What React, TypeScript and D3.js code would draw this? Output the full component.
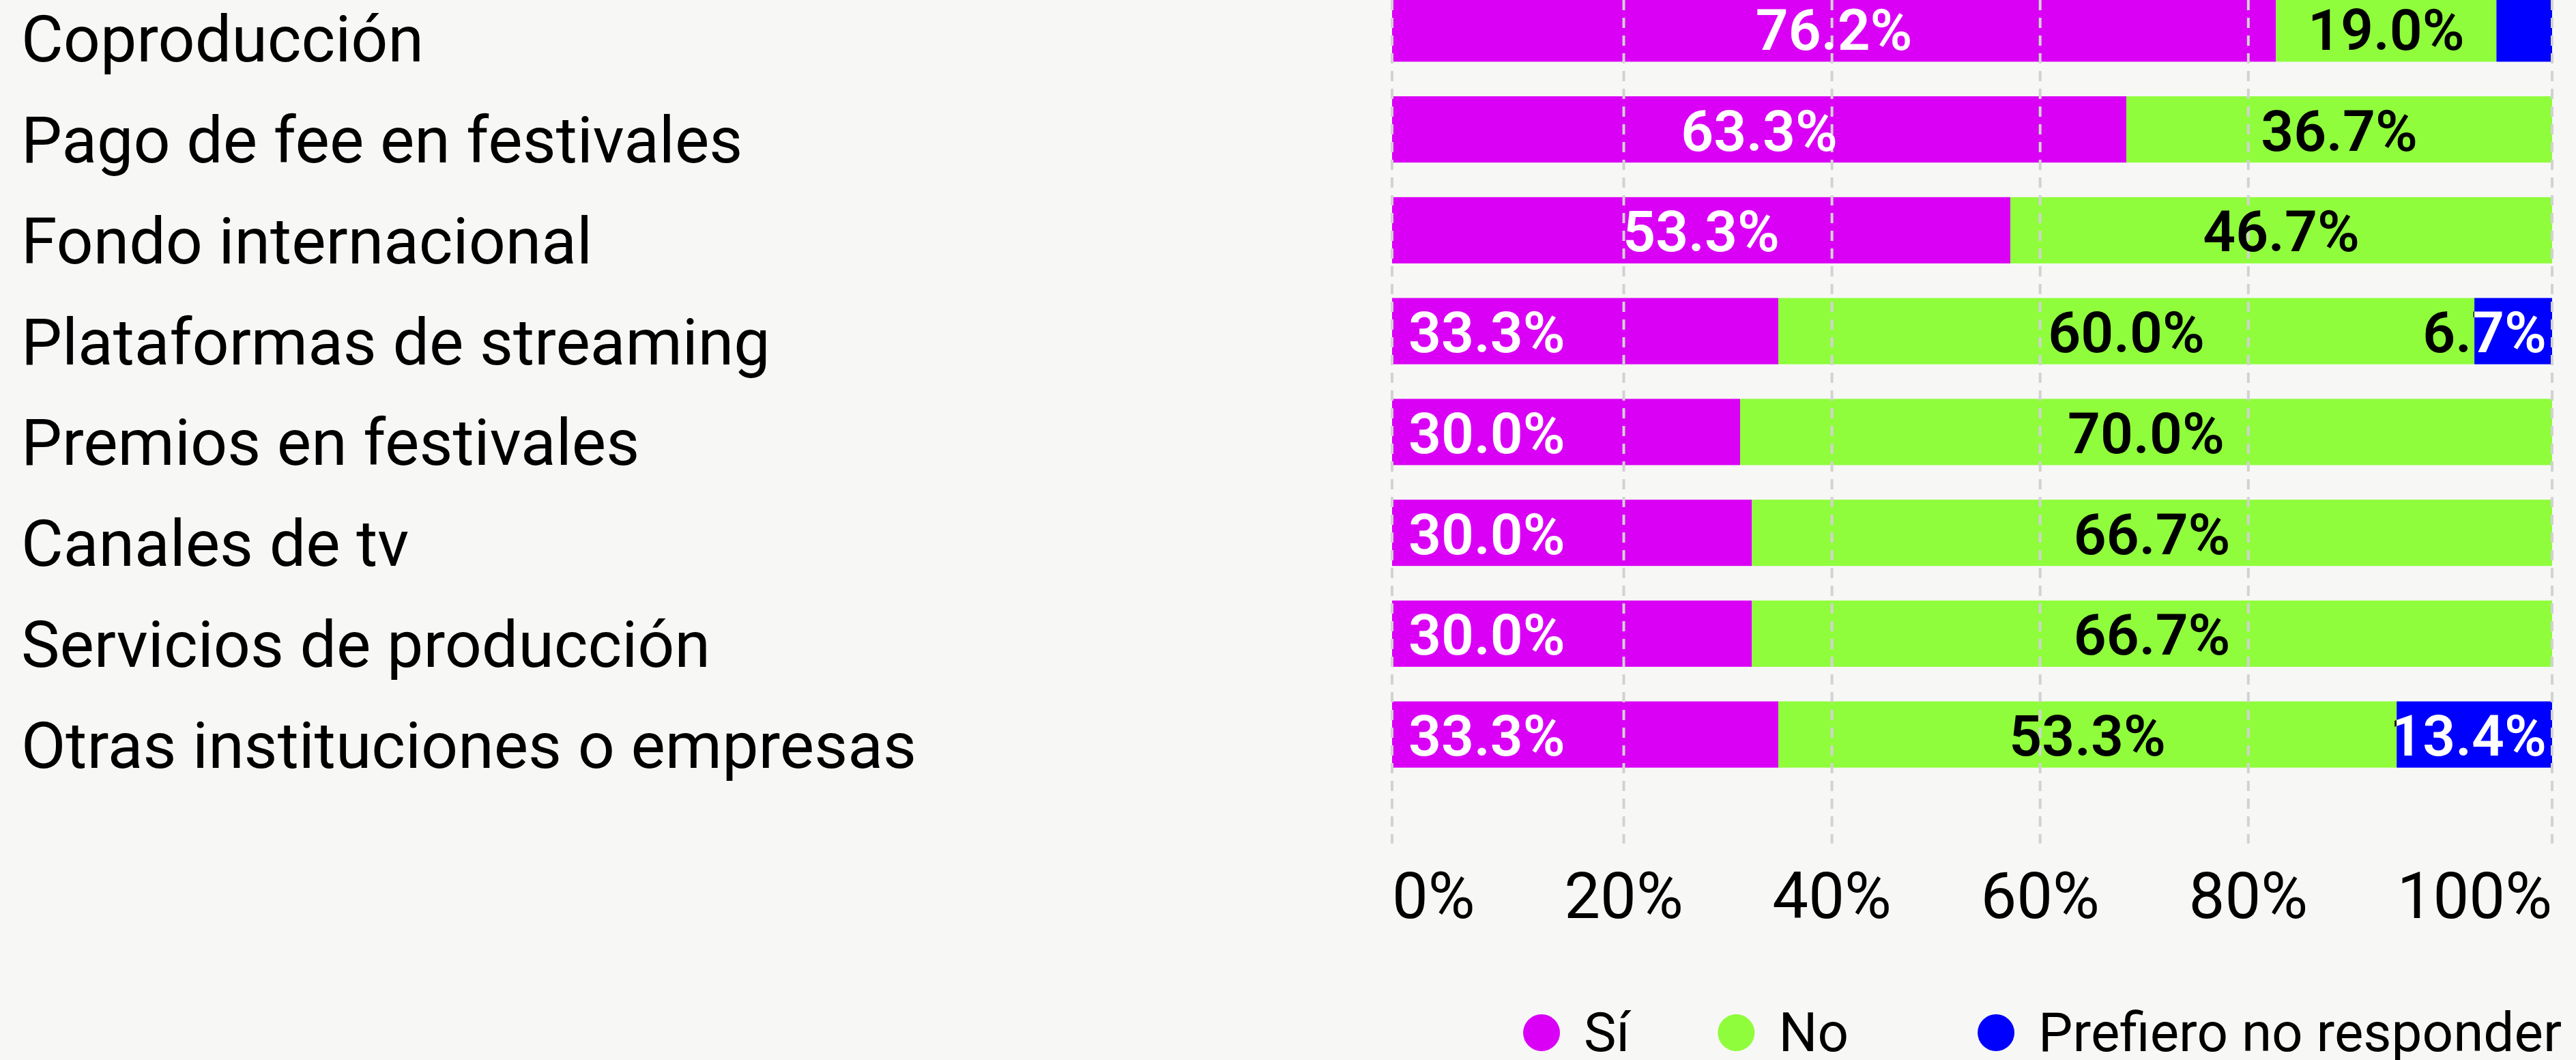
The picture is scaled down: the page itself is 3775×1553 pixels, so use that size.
import * as d3 from "d3";
import { useEffect, useRef } from "react";

const WIDTH = 3775;
const HEIGHT = 1553;
const PLOT = { left: 2040, right: 3740, top: -32, bottom: 1150 };
const FONT = "Roboto, 'Noto Sans', sans-serif";

const categories = [
  "Coproducción",
  "Pago de fee en festivales",
  "Fondo internacional",
  "Plataformas de streaming",
  "Premios en festivales",
  "Canales de tv",
  "Servicios de producción",
  "Otras instituciones o empresas",
];
const series = ["Sí", "No", "Prefiero no responder"];
const siValues = [76.2, 63.3, 53.3, 33.3, 30.0, 30.0, 30.0, 33.3];
const noValues = [19.0, 36.7, 46.7, 60.0, 70.0, 66.7, 66.7, 53.3];
const prefieroValues = [4.8, 0, 0, 6.7, 0, 0, 0, 13.4];
const tickValues = [0, 20, 40, 60, 80, 100];

const colors = ["#d900f5", "#8ffd3b", "#0000ff"];
const labelColors = ["#ffffff", "#000000", "#ffffff"];
const LEGEND_GAPS = [129, 189];
const LEGEND_RIGHT = 3754;

export default function App() {
  const ref = useRef<SVGSVGElement>(null);

  useEffect(() => {
    const svg = d3.select(ref.current);
    svg.selectAll("*").remove();
    const defs = svg.append("defs");

    svg.append("rect").attr("width", WIDTH).attr("height", HEIGHT).attr("fill", "#f7f7f5");

    const table = categories.map((c, i) => ({
      category: c,
      "Sí": siValues[i],
      "No": noValues[i],
      "Prefiero no responder": prefieroValues[i],
    }));
    const stacked = d3.stack<any>().keys(series).offset(d3.stackOffsetExpand)(table);

    const x = d3.scaleLinear().domain([0, 1]).range([PLOT.left, PLOT.right]);
    const y = d3
      .scaleBand()
      .domain(categories)
      .range([PLOT.top, PLOT.bottom])
      .paddingInner(0.343)
      .paddingOuter(0.1715);

    // bars
    stacked.forEach((layer, si) => {
      svg
        .append("g")
        .selectAll("rect")
        .data(layer.filter((d) => d[1] - d[0] > 0))
        .join("rect")
        .attr("x", (d) => x(d[0]))
        .attr("y", (d) => y(d.data.category)!)
        .attr("width", (d) => x(d[1]) - x(d[0]))
        .attr("height", y.bandwidth())
        .attr("fill", colors[si]);
    });

    // x tick labels, spread like a space-between row
    const tickG = svg.append("g").attr("font-family", FONT).attr("font-size", 94).attr("fill", "#000");
    const tickTexts = tickG
      .selectAll("text")
      .data(tickValues)
      .join("text")
      .attr("y", 1345)
      .text((d) => `${d}%`);
    const widths = tickTexts.nodes().map((n) => (n as SVGTextElement).getComputedTextLength());
    const gap = (PLOT.right - PLOT.left - d3.sum(widths)) / (tickValues.length - 1);
    const starts: number[] = [];
    widths.reduce((acc, w) => {
      starts.push(acc);
      return acc + w + gap;
    }, PLOT.left);
    tickTexts.attr("x", (_, i) => starts[i]);
    const gridX = tickValues.map((v, i) =>
      i === 0 ? x(0) : i === tickValues.length - 1 ? x(1) : starts[i] + widths[i] / 2
    );

    // dashed grid on top of the bars
    svg
      .append("g")
      .selectAll("line")
      .data(gridX)
      .join("line")
      .attr("x1", (d) => d)
      .attr("x2", (d) => d)
      .attr("y1", 0)
      .attr("y2", 1236)
      .attr("stroke", "#d2d2d2")
      .attr("stroke-width", 4)
      .attr("stroke-dasharray", "15 11");

    // value labels
    stacked.forEach((layer, si) => {
      const texts = svg
        .append("g")
        .attr("font-family", FONT)
        .attr("font-size", 84)
        .attr("font-weight", 600)
        .selectAll("text")
        .data(layer.filter((d) => d.data[series[si]] >= 5))
        .join("text")
        .attr("y", (d) => y(d.data.category)! + y.bandwidth() / 2 + 31)
        .attr("x", (d) => {
          const v = d.data[series[si]];
          if (si === 0 && v < 40) return x(d[0]) + 24;
          if (si === series.length - 1) return x(d[1]) - 8;
          return (x(d[0]) + x(d[1])) / 2;
        })
        .attr("text-anchor", (d) => {
          const v = d.data[series[si]];
          if (si === 0 && v < 40) return "start";
          if (si === series.length - 1) return "end";
          return "middle";
        })
        .attr("fill", labelColors[si])
        .text((d) => `${d.data[series[si]].toFixed(1)}%`);

      // a label wider than its own segment takes the colour of the segment under it
      texts.each(function (d, k) {
        const node = this as SVGTextElement;
        const w = node.getComputedTextLength();
        const tx = +node.getAttribute("x")!;
        const anchor = node.getAttribute("text-anchor");
        const left = anchor === "end" ? tx - w : anchor === "middle" ? tx - w / 2 : tx;
        const x0 = x(d[0]);
        if (si > 0 && left < x0) {
          const id = `lbl-${si}-${k}`;
          const g = defs
            .append("linearGradient")
            .attr("id", id)
            .attr("gradientUnits", "userSpaceOnUse")
            .attr("x1", 0)
            .attr("x2", WIDTH)
            .attr("y1", 0)
            .attr("y2", 0);
          const off = x0 / WIDTH;
          g.append("stop").attr("offset", off).attr("stop-color", labelColors[si - 1]);
          g.append("stop").attr("offset", off).attr("stop-color", labelColors[si]);
          d3.select(node).attr("fill", `url(#${id})`);
        }
      });
    });

    // category labels
    svg
      .append("g")
      .attr("font-family", FONT)
      .attr("font-size", 95)
      .attr("fill", "#000")
      .selectAll("text")
      .data(categories)
      .join("text")
      .attr("x", 31)
      .attr("y", (d) => y(d)! + y.bandwidth())
      .text((d) => d);

    // legend, laid out from the right edge
    const legend = svg.append("g").attr("font-family", FONT).attr("font-size", 80);
    const items = series.map((s, i) => {
      const circle = legend.append("circle").attr("cy", 1513).attr("r", 27).attr("fill", colors[i]);
      const text = legend.append("text").attr("y", 1540).attr("fill", "#000").text(s);
      const w = (text.node() as SVGTextElement).getComputedTextLength();
      return { circle, text, w };
    });
    let right = LEGEND_RIGHT;
    for (let i = items.length - 1; i >= 0; i--) {
      const it = items[i];
      const tx = right - it.w;
      it.text.attr("x", tx);
      it.circle.attr("cx", tx - 62);
      right = tx - 62 - 27 - (LEGEND_GAPS[i - 1] ?? 0);
    }
  }, []);

  return (
    <svg
      ref={ref}
      width={WIDTH}
      height={HEIGHT}
      style={{ position: "absolute", left: 0, top: 0, display: "block" }}
    />
  );
}
